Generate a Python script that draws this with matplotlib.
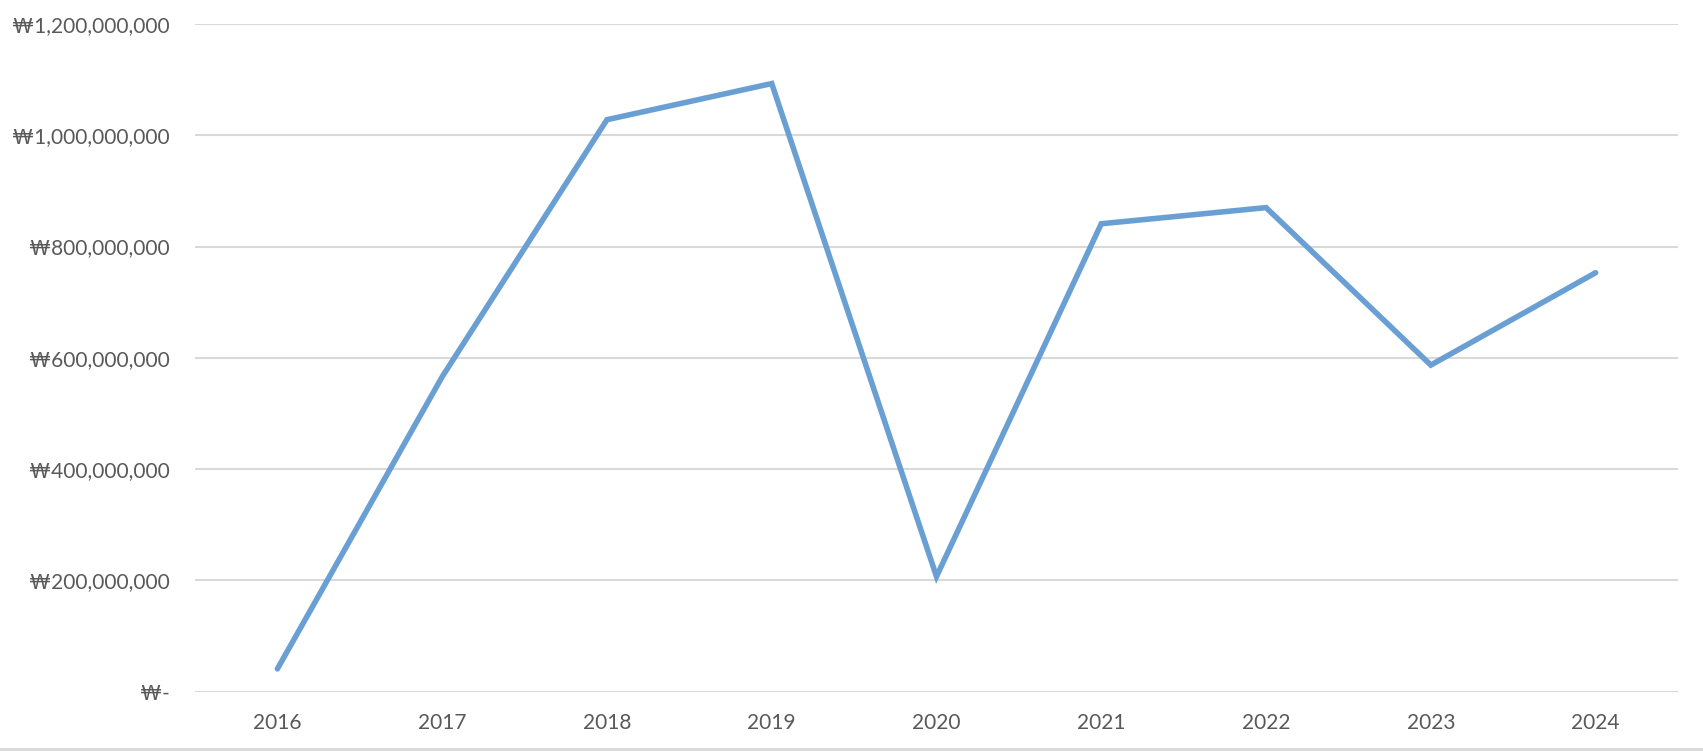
import matplotlib.pyplot as plt
from matplotlib import ticker
from matplotlib.lines import Line2D

years = ["2016", "2017", "2018", "2019", "2020", "2021", "2022", "2023", "2024"]
values = [41e6, 566e6, 1028e6, 1093e6, 207e6, 841e6, 870e6, 587e6, 753e6]
y_ticks = [0, 200e6, 400e6, 600e6, 800e6, 1000e6, 1200e6]

plt.rcParams["font.family"] = ["Lato", "DejaVu Sans"]

def format_won(value, _):
  if value == 0:
    return "₩-"
  return f"₩{value:,.0f}"

fig = plt.figure(figsize=(17.03, 7.51), dpi=100)
ax = fig.add_axes([195 / 1703, 1 - 691.7 / 751, (1678 - 195) / 1703, (691.7 - 24) / 751])

xs = range(len(years))
ax.plot(xs, values, color="#6a9fd4", linewidth=4.0, solid_joinstyle="miter", solid_capstyle="round", zorder=3)

ax.set_xlim(-0.5, len(years) - 0.5)
ax.set_ylim(0, 1200e6)
ax.set_xticks(list(xs))
ax.set_xticklabels(years)
ax.set_yticks(y_ticks)
ax.yaxis.set_major_formatter(ticker.FuncFormatter(format_won))

for spine in ax.spines.values():
  spine.set_visible(False)
ax.grid(axis="y", color="#d9d9d9", linewidth=1.5, zorder=0)
ax.set_axisbelow(True)
ax.tick_params(axis="both", length=0, labelsize=15, labelcolor="#595959")
ax.tick_params(axis="y", pad=18)
ax.tick_params(axis="x", pad=15)

# thin chart border along the bottom edge
fig.add_artist(Line2D([0, 1], [1 - 749 / 751, 1 - 749 / 751], color="#d9d9d9", linewidth=2))

plt.savefig("out.png", dpi=100)
